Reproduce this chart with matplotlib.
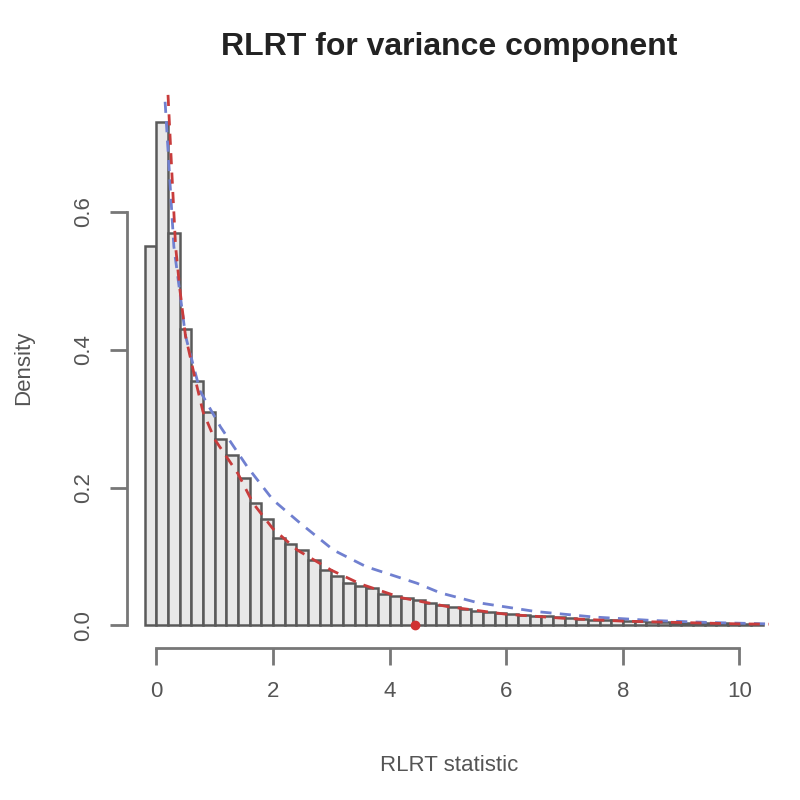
import numpy as np
import matplotlib
matplotlib.use("Agg")
import matplotlib.pyplot as plt

plt.rcParams['font.family'] = ['Liberation Sans', 'DejaVu Sans']

# histogram of simulated RLRT values (density), bin width 0.2 starting at -0.2
bin_start = -0.2
bin_width = 0.2
hist_density = [0.55, 0.73, 0.57, 0.43, 0.355, 0.31, 0.27, 0.247, 0.214, 0.177,
                0.155, 0.127, 0.118, 0.109, 0.095, 0.080, 0.072, 0.061, 0.057, 0.054,
                0.046, 0.042, 0.039, 0.036, 0.032, 0.029, 0.026, 0.024, 0.021, 0.019,
                0.018, 0.016, 0.015, 0.013, 0.013, 0.012, 0.011, 0.009, 0.008, 0.007,
                0.007, 0.006, 0.006, 0.005, 0.005, 0.004, 0.004, 0.003, 0.003, 0.003,
                0.002, 0.002, 0.002]

# red dashed density curve
red_x = [0.2, 0.27, 0.33, 0.4, 0.5, 0.67, 0.8, 1.0, 1.2, 1.4, 1.66, 2.0, 2.42, 3.0,
         3.5, 4.2, 5.0, 6.0, 7.0, 8.0, 9.0, 10.0, 10.5]
red_y = [0.77, 0.65, 0.55, 0.49, 0.42, 0.356, 0.31, 0.27, 0.245, 0.22, 0.177, 0.14,
         0.109, 0.08, 0.06, 0.04, 0.027, 0.016, 0.010, 0.006, 0.004, 0.002, 0.0016]

# blue dashed reference curve
blue_x = [0.15, 0.3, 0.5, 0.75, 1.1, 1.56, 2.0, 2.47, 3.04, 3.6, 4.47, 4.87, 5.5,
          6.5, 7.5, 8.5, 9.5, 10.5]
blue_y = [0.76, 0.55, 0.42, 0.34, 0.288, 0.23, 0.182, 0.148, 0.109, 0.085, 0.061,
          0.047, 0.033, 0.02, 0.012, 0.007, 0.004, 0.002]

# observed statistic
obs_x = 4.44

fig = plt.figure(figsize=(8, 8), dpi=100)
ax = fig.add_axes([0.159, 0.19, 0.804, 0.70])

edges = bin_start + bin_width * np.arange(len(hist_density))
ax.bar(edges, hist_density, width=bin_width, align='edge',
       facecolor='#e8e8e8', edgecolor='#5a5a5a', linewidth=1.8)

ax.plot(blue_x, blue_y, color='#7080d0', linestyle=(0, (4, 3)), linewidth=2)
ax.plot(red_x, red_y, color='#c83c3c', linestyle=(0, (4, 3)), linewidth=2)
ax.plot([obs_x], [0], 'o', color='#d03030', markersize=6, clip_on=False)

ax.set_xlim(-0.5, 10.53)
ax.set_ylim(-0.033, 0.78)

for s in ['top', 'right']:
    ax.spines[s].set_visible(False)
ax.spines['left'].set_bounds(0, 0.6)
ax.spines['bottom'].set_bounds(0, 10)
for s in ['left', 'bottom']:
    ax.spines[s].set_color('#777777')
    ax.spines[s].set_linewidth(2)

ax.set_xticks([0, 2, 4, 6, 8, 10])
ax.set_yticks([0.0, 0.2, 0.4, 0.6])
ax.set_yticklabels(['0.0', '0.2', '0.4', '0.6'], rotation=90, va='center')
ax.tick_params(axis='both', length=12, width=2, color='#777777',
               labelsize=16, labelcolor='#555555', pad=12)

ax.set_xlabel('RLRT statistic', fontsize=16, color='#555555', labelpad=38)
ax.set_ylabel('Density', fontsize=16, color='#555555', labelpad=28)
ax.set_title('RLRT for variance component', fontsize=23, fontweight='bold',
             color='#222222', pad=24)

fig.savefig('out.png', dpi=100)
